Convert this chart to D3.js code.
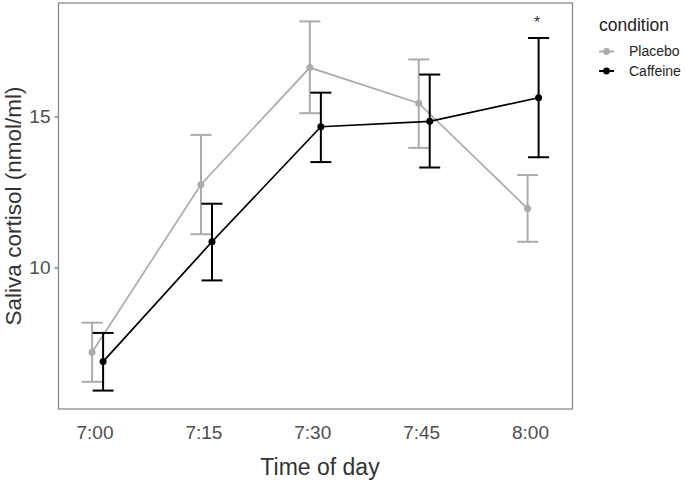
<!DOCTYPE html>
<html>
<head>
<meta charset="utf-8">
<script src="https://cdn.jsdelivr.net/npm/d3@7"></script>
<style>
  html, body { margin: 0; padding: 0; background: #fff; }
  svg { display: block; font-family: "Liberation Sans", Arial, sans-serif; }
</style>
</head>
<body>
<svg id="chart" width="685" height="482"></svg>
<script>
// ---- data ----
const times = ["7:00", "7:15", "7:30", "7:45", "8:00"];
const placeboMean  = [7.19, 12.75, 16.62, 15.44, 11.95];
const placeboLow   = [6.21, 11.10, 15.11, 13.96, 10.85];
const placeboHigh  = [8.17, 14.39, 18.15, 16.89, 13.06];
const caffeineMean = [6.88, 10.85, 14.66, 14.84, 15.62];
const caffeineLow  = [5.92,  9.57, 13.49, 13.31, 13.65];
const caffeineHigh = [7.83, 12.11, 15.79, 16.39, 17.60];
const yTicks = [10, 15];
const conditions = ["Placebo", "Caffeine"];
const annotations = [{ time: "8:00", label: "*", value: 18.2 }];

// ---- layout ----
const svg = d3.select("#chart");
const panel = { left: 58.5, right: 572.5, top: 3, bottom: 409 };
const colors = { Placebo: "#ababab", Caffeine: "#000000" };
const dodge = { Placebo: -5.4, Caffeine: 5.6 };

const x = d3.scalePoint().domain(times).range([97.5, 533]);
const y = d3.scaleLinear().domain([5.31, 18.76]).range([panel.bottom, panel.top]);

const series = [
  { name: "Placebo", values: times.map((t, i) => ({ t, m: placeboMean[i], lo: placeboLow[i], hi: placeboHigh[i] })) },
  { name: "Caffeine", values: times.map((t, i) => ({ t, m: caffeineMean[i], lo: caffeineLow[i], hi: caffeineHigh[i] })) }
];

// panel background
svg.append("rect")
  .attr("x", panel.left).attr("y", panel.top)
  .attr("width", panel.right - panel.left).attr("height", panel.bottom - panel.top)
  .attr("fill", "#fff");

// y axis ticks + labels
const yAxis = d3.axisLeft(y).tickValues(yTicks).tickSize(4).tickPadding(4).tickFormat(d3.format("d"));
const gy = svg.append("g").attr("transform", `translate(${panel.left},0)`).call(yAxis);
gy.select(".domain").remove();
gy.selectAll(".tick line").attr("stroke", "#555").attr("stroke-width", 1.1);
gy.selectAll(".tick text").attr("fill", "#4d4d4d").style("font-size", "19px")
  .style("font-family", "'Liberation Sans', Arial, sans-serif");

// x axis labels (no tick marks)
const xAxis = d3.axisBottom(x).tickSize(0).tickPadding(0);
const gx = svg.append("g").attr("transform", `translate(-3,${panel.bottom})`).call(xAxis);
gx.select(".domain").remove();
gx.selectAll(".tick text").attr("fill", "#4d4d4d").style("font-size", "19px")
  .style("font-family", "'Liberation Sans', Arial, sans-serif")
  .attr("dy", null).attr("y", 29.5);

// series
const line = d3.line().x(d => x(d.t) + d.off).y(d => y(d.m));
series.forEach(s => {
  const off = dodge[s.name];
  const col = colors[s.name];
  const g = svg.append("g");
  const vals = s.values.map(v => Object.assign({ off }, v));
  // error bars
  vals.forEach(v => {
    const cx = x(v.t) + off;
    g.append("line").attr("x1", cx).attr("x2", cx).attr("y1", y(v.lo)).attr("y2", y(v.hi))
      .attr("stroke", col).attr("stroke-width", 2);
    [v.lo, v.hi].forEach(val => {
      g.append("line").attr("x1", cx - 10.5).attr("x2", cx + 10.5).attr("y1", y(val)).attr("y2", y(val))
        .attr("stroke", col).attr("stroke-width", 2);
    });
  });
  g.append("path").datum(vals).attr("d", line).attr("fill", "none")
    .attr("stroke", col).attr("stroke-width", 1.7);
  g.selectAll("circle").data(vals).join("circle")
    .attr("cx", d => x(d.t) + off).attr("cy", d => y(d.m)).attr("r", 3.5).attr("fill", col);
});

// annotation
annotations.forEach(a => {
  svg.append("text").attr("x", x(a.time) + dodge.Caffeine - 1.5).attr("y", y(a.value) + 8)
    .attr("text-anchor", "middle").attr("fill", "#333").style("font-size", "16px").text(a.label);
});

// panel border
svg.append("rect")
  .attr("x", panel.left).attr("y", panel.top)
  .attr("width", panel.right - panel.left).attr("height", panel.bottom - panel.top)
  .attr("fill", "none").attr("stroke", "#8a8a8a").attr("stroke-width", 1.3);

// axis titles
svg.append("text").attr("x", 320).attr("y", 475).attr("text-anchor", "middle")
  .attr("fill", "#333").style("font-size", "23px").text("Time of day");
svg.append("text").attr("transform", `translate(21,${(panel.top + panel.bottom) / 2}) rotate(-90)`)
  .attr("text-anchor", "middle").attr("fill", "#333").style("font-size", "22.5px")
  .text("Saliva cortisol (nmol/ml)");

// legend
const lg = svg.append("g").attr("transform", "translate(599,0)");
lg.append("text").attr("x", 0).attr("y", 31).attr("fill", "#222").style("font-size", "17.5px").text("condition");
conditions.forEach((c, i) => {
  const yy = 51.5 + i * 19.5;
  lg.append("line").attr("x1", 0).attr("x2", 15).attr("y1", yy).attr("y2", yy)
    .attr("stroke", colors[c]).attr("stroke-width", 2);
  lg.append("circle").attr("cx", 7.5).attr("cy", yy).attr("r", 3.4).attr("fill", colors[c]);
  lg.append("text").attr("x", 30).attr("y", yy).attr("dy", "0.35em").attr("fill", "#222")
    .style("font-size", "14px").text(c);
});
</script>
</body>
</html>
